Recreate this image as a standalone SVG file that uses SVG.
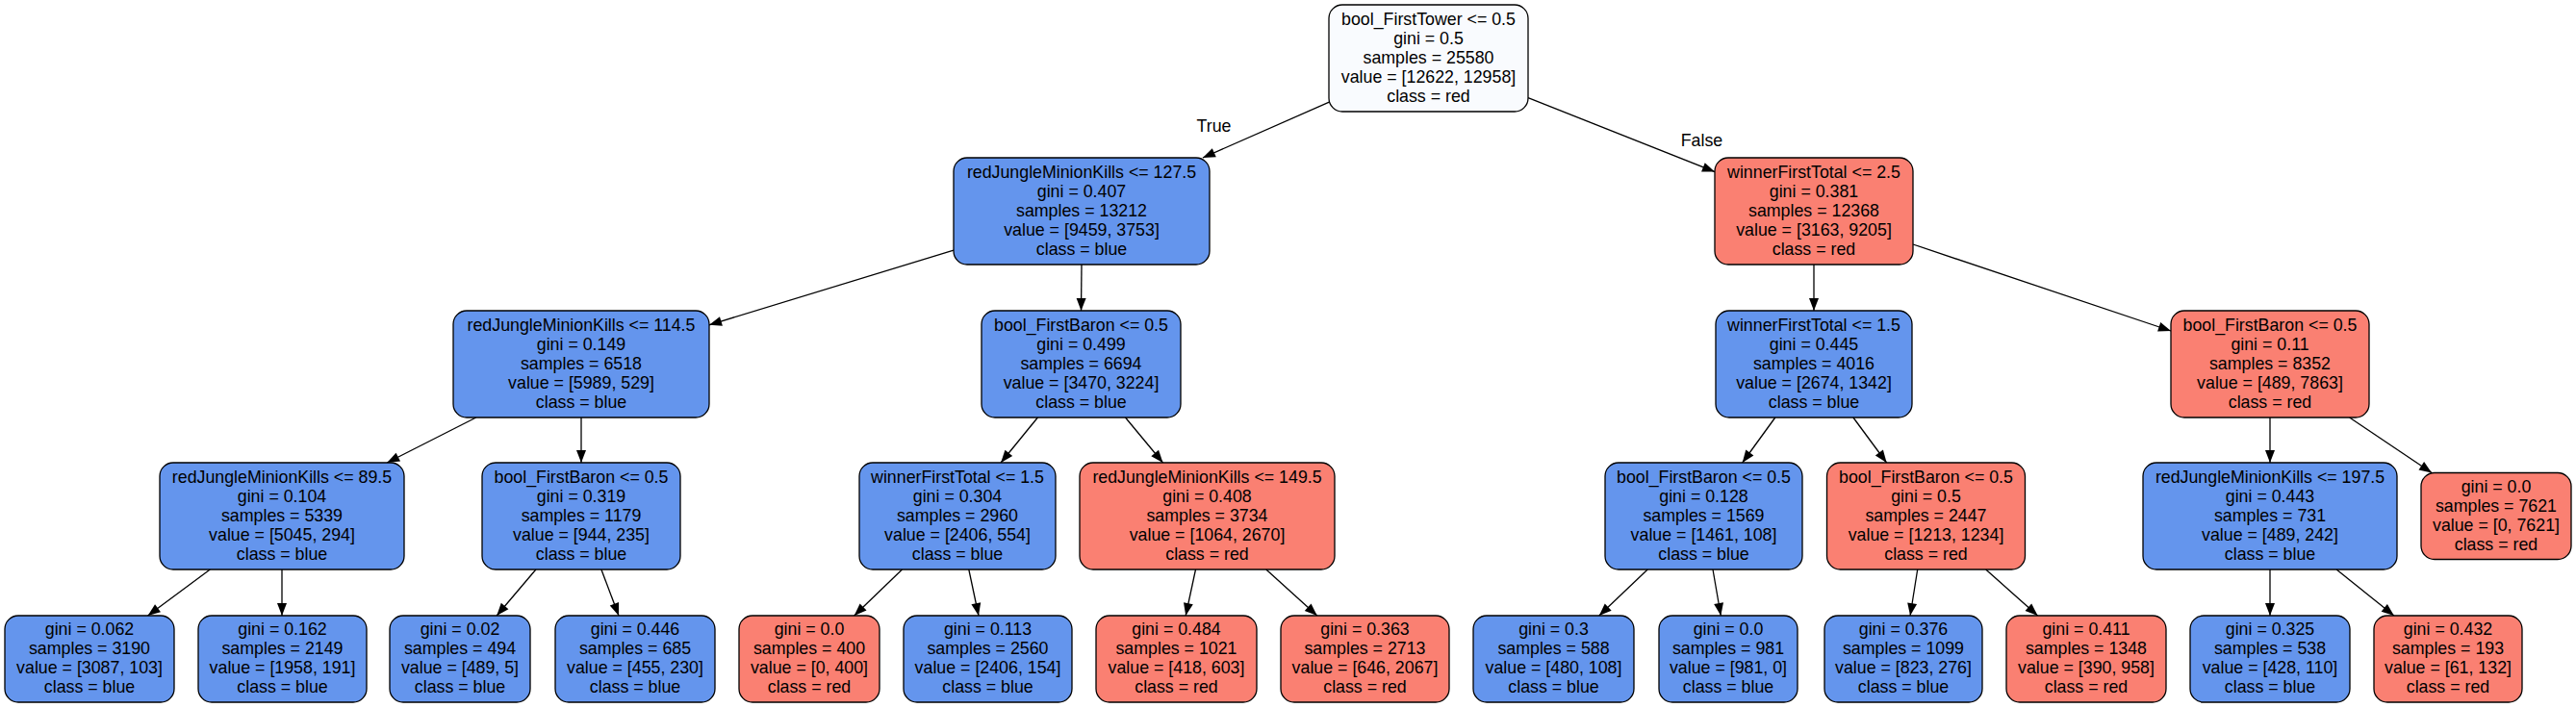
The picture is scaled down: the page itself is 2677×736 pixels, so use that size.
<svg xmlns="http://www.w3.org/2000/svg" width="2677" height="736" viewBox="0 0 2677 736">
<style>
.b,.r,.w{stroke:#000;stroke-width:1.3}
.b{fill:#6495ED}
.r{fill:#FA8072}
.w{fill:#F9FBFE}
text{font-family:"Liberation Sans",Arial,Helvetica,sans-serif;font-size:17.8px;text-anchor:middle;fill:#000}
.e line{stroke:#000;stroke-width:1.3;marker-end:url(#ah)}
</style>
<defs>
<marker id="ah" markerUnits="userSpaceOnUse" viewBox="0 0 13 10" markerWidth="13" markerHeight="10" refX="13" refY="5" orient="auto" overflow="visible">
<path d="M0,0 L13,5 L0,10 z" fill="#000"/>
</marker>
</defs>
<g id="connectors" class="e">
<line x1="1383" y1="105.4" x2="1249.9" y2="164"/>
<line x1="1588" y1="101.6" x2="1782" y2="178.6"/>
<line x1="991" y1="260.2" x2="737" y2="337.8"/>
<line x1="1124" y1="275" x2="1123.5" y2="323"/>
<line x1="1885" y1="275" x2="1885" y2="323"/>
<line x1="1988" y1="254" x2="2256" y2="344"/>
<line x1="494.8" y1="434" x2="402.2" y2="481"/>
<line x1="604" y1="434" x2="604" y2="481"/>
<line x1="1078.4" y1="434" x2="1040.1" y2="481"/>
<line x1="1169.5" y1="434" x2="1208.5" y2="481"/>
<line x1="1844.8" y1="434" x2="1810.7" y2="481"/>
<line x1="1925.9" y1="434" x2="1960.6" y2="481"/>
<line x1="2359" y1="434" x2="2359" y2="481"/>
<line x1="2441.6" y1="434" x2="2527.1" y2="491.5"/>
<line x1="218.3" y1="592" x2="153.6" y2="640"/>
<line x1="293" y1="592" x2="293" y2="640"/>
<line x1="556.9" y1="592" x2="516.2" y2="640"/>
<line x1="624.9" y1="592" x2="643" y2="640"/>
<line x1="937.5" y1="592" x2="887.7" y2="640"/>
<line x1="1006.8" y1="592" x2="1017" y2="640"/>
<line x1="1242.5" y1="592" x2="1232.2" y2="640"/>
<line x1="1315.8" y1="592" x2="1368.8" y2="640"/>
<line x1="1712.2" y1="592" x2="1661.8" y2="640"/>
<line x1="1780" y1="592" x2="1788.3" y2="640"/>
<line x1="1992.7" y1="592" x2="1985.1" y2="640"/>
<line x1="2063.7" y1="592" x2="2117.6" y2="640"/>
<line x1="2359" y1="592" x2="2359" y2="640"/>
<line x1="2428.1" y1="592" x2="2487.9" y2="640"/>
<text x="1261.5" y="137">True</text>
<text x="1768.5" y="152">False</text>
</g>
<g id="node0"><rect class="w" x="1381" y="5" width="207" height="111" rx="14"/>
<text x="1484.5" y="25.5">bool_FirstTower &lt;= 0.5</text><text x="1484.5" y="45.5">gini = 0.5</text><text x="1484.5" y="65.5">samples = 25580</text><text x="1484.5" y="85.5">value = [12622, 12958]</text><text x="1484.5" y="105.5">class = red</text></g>
<g id="node1"><rect class="b" x="991" y="164" width="266" height="111" rx="14"/>
<text x="1124" y="184.5">redJungleMinionKills &lt;= 127.5</text><text x="1124" y="204.5">gini = 0.407</text><text x="1124" y="224.5">samples = 13212</text><text x="1124" y="244.5">value = [9459, 3753]</text><text x="1124" y="264.5">class = blue</text></g>
<g id="node16"><rect class="r" x="1782" y="164" width="206" height="111" rx="14"/>
<text x="1885" y="184.5">winnerFirstTotal &lt;= 2.5</text><text x="1885" y="204.5">gini = 0.381</text><text x="1885" y="224.5">samples = 12368</text><text x="1885" y="244.5">value = [3163, 9205]</text><text x="1885" y="264.5">class = red</text></g>
<g id="node2"><rect class="b" x="471" y="323" width="266" height="111" rx="14"/>
<text x="604" y="343.5">redJungleMinionKills &lt;= 114.5</text><text x="604" y="363.5">gini = 0.149</text><text x="604" y="383.5">samples = 6518</text><text x="604" y="403.5">value = [5989, 529]</text><text x="604" y="423.5">class = blue</text></g>
<g id="node9"><rect class="b" x="1020" y="323" width="207" height="111" rx="14"/>
<text x="1123.5" y="343.5">bool_FirstBaron &lt;= 0.5</text><text x="1123.5" y="363.5">gini = 0.499</text><text x="1123.5" y="383.5">samples = 6694</text><text x="1123.5" y="403.5">value = [3470, 3224]</text><text x="1123.5" y="423.5">class = blue</text></g>
<g id="node17"><rect class="b" x="1783" y="323" width="204" height="111" rx="14"/>
<text x="1885" y="343.5">winnerFirstTotal &lt;= 1.5</text><text x="1885" y="363.5">gini = 0.445</text><text x="1885" y="383.5">samples = 4016</text><text x="1885" y="403.5">value = [2674, 1342]</text><text x="1885" y="423.5">class = blue</text></g>
<g id="node24"><rect class="r" x="2256" y="323" width="206" height="111" rx="14"/>
<text x="2359" y="343.5">bool_FirstBaron &lt;= 0.5</text><text x="2359" y="363.5">gini = 0.11</text><text x="2359" y="383.5">samples = 8352</text><text x="2359" y="403.5">value = [489, 7863]</text><text x="2359" y="423.5">class = red</text></g>
<g id="node3"><rect class="b" x="166" y="481" width="254" height="111" rx="14"/>
<text x="293" y="501.5">redJungleMinionKills &lt;= 89.5</text><text x="293" y="521.5">gini = 0.104</text><text x="293" y="541.5">samples = 5339</text><text x="293" y="561.5">value = [5045, 294]</text><text x="293" y="581.5">class = blue</text></g>
<g id="node6"><rect class="b" x="501" y="481" width="206" height="111" rx="14"/>
<text x="604" y="501.5">bool_FirstBaron &lt;= 0.5</text><text x="604" y="521.5">gini = 0.319</text><text x="604" y="541.5">samples = 1179</text><text x="604" y="561.5">value = [944, 235]</text><text x="604" y="581.5">class = blue</text></g>
<g id="node10"><rect class="b" x="893" y="481" width="204" height="111" rx="14"/>
<text x="995" y="501.5">winnerFirstTotal &lt;= 1.5</text><text x="995" y="521.5">gini = 0.304</text><text x="995" y="541.5">samples = 2960</text><text x="995" y="561.5">value = [2406, 554]</text><text x="995" y="581.5">class = blue</text></g>
<g id="node13"><rect class="r" x="1122" y="481" width="265" height="111" rx="14"/>
<text x="1254.5" y="501.5">redJungleMinionKills &lt;= 149.5</text><text x="1254.5" y="521.5">gini = 0.408</text><text x="1254.5" y="541.5">samples = 3734</text><text x="1254.5" y="561.5">value = [1064, 2670]</text><text x="1254.5" y="581.5">class = red</text></g>
<g id="node18"><rect class="b" x="1668" y="481" width="205" height="111" rx="14"/>
<text x="1770.5" y="501.5">bool_FirstBaron &lt;= 0.5</text><text x="1770.5" y="521.5">gini = 0.128</text><text x="1770.5" y="541.5">samples = 1569</text><text x="1770.5" y="561.5">value = [1461, 108]</text><text x="1770.5" y="581.5">class = blue</text></g>
<g id="node21"><rect class="r" x="1898.5" y="481" width="206" height="111" rx="14"/>
<text x="2001.5" y="501.5">bool_FirstBaron &lt;= 0.5</text><text x="2001.5" y="521.5">gini = 0.5</text><text x="2001.5" y="541.5">samples = 2447</text><text x="2001.5" y="561.5">value = [1213, 1234]</text><text x="2001.5" y="581.5">class = red</text></g>
<g id="node25"><rect class="b" x="2227" y="481" width="264" height="111" rx="14"/>
<text x="2359" y="501.5">redJungleMinionKills &lt;= 197.5</text><text x="2359" y="521.5">gini = 0.443</text><text x="2359" y="541.5">samples = 731</text><text x="2359" y="561.5">value = [489, 242]</text><text x="2359" y="581.5">class = blue</text></g>
<g id="node28"><rect class="r" x="2516" y="491.5" width="156" height="90" rx="14"/>
<text x="2594" y="511.5">gini = 0.0</text><text x="2594" y="531.5">samples = 7621</text><text x="2594" y="551.5">value = [0, 7621]</text><text x="2594" y="571.5">class = red</text></g>
<g id="node4"><rect class="b" x="5" y="640" width="176" height="90" rx="14"/>
<text x="93" y="660">gini = 0.062</text><text x="93" y="680">samples = 3190</text><text x="93" y="700">value = [3087, 103]</text><text x="93" y="720">class = blue</text></g>
<g id="node5"><rect class="b" x="206" y="640" width="175" height="90" rx="14"/>
<text x="293.5" y="660">gini = 0.162</text><text x="293.5" y="680">samples = 2149</text><text x="293.5" y="700">value = [1958, 191]</text><text x="293.5" y="720">class = blue</text></g>
<g id="node7"><rect class="b" x="405" y="640" width="146" height="90" rx="14"/>
<text x="478" y="660">gini = 0.02</text><text x="478" y="680">samples = 494</text><text x="478" y="700">value = [489, 5]</text><text x="478" y="720">class = blue</text></g>
<g id="node8"><rect class="b" x="577" y="640" width="166" height="90" rx="14"/>
<text x="660" y="660">gini = 0.446</text><text x="660" y="680">samples = 685</text><text x="660" y="700">value = [455, 230]</text><text x="660" y="720">class = blue</text></g>
<g id="node11"><rect class="r" x="768" y="640" width="146" height="90" rx="14"/>
<text x="841" y="660">gini = 0.0</text><text x="841" y="680">samples = 400</text><text x="841" y="700">value = [0, 400]</text><text x="841" y="720">class = red</text></g>
<g id="node12"><rect class="b" x="939" y="640" width="175" height="90" rx="14"/>
<text x="1026.5" y="660">gini = 0.113</text><text x="1026.5" y="680">samples = 2560</text><text x="1026.5" y="700">value = [2406, 154]</text><text x="1026.5" y="720">class = blue</text></g>
<g id="node14"><rect class="r" x="1139" y="640" width="167" height="90" rx="14"/>
<text x="1222.5" y="660">gini = 0.484</text><text x="1222.5" y="680">samples = 1021</text><text x="1222.5" y="700">value = [418, 603]</text><text x="1222.5" y="720">class = red</text></g>
<g id="node15"><rect class="r" x="1331" y="640" width="175" height="90" rx="14"/>
<text x="1418.5" y="660">gini = 0.363</text><text x="1418.5" y="680">samples = 2713</text><text x="1418.5" y="700">value = [646, 2067]</text><text x="1418.5" y="720">class = red</text></g>
<g id="node19"><rect class="b" x="1531" y="640" width="167" height="90" rx="14"/>
<text x="1614.5" y="660">gini = 0.3</text><text x="1614.5" y="680">samples = 588</text><text x="1614.5" y="700">value = [480, 108]</text><text x="1614.5" y="720">class = blue</text></g>
<g id="node20"><rect class="b" x="1724" y="640" width="144" height="90" rx="14"/>
<text x="1796" y="660">gini = 0.0</text><text x="1796" y="680">samples = 981</text><text x="1796" y="700">value = [981, 0]</text><text x="1796" y="720">class = blue</text></g>
<g id="node22"><rect class="b" x="1896" y="640" width="164" height="90" rx="14"/>
<text x="1978" y="660">gini = 0.376</text><text x="1978" y="680">samples = 1099</text><text x="1978" y="700">value = [823, 276]</text><text x="1978" y="720">class = blue</text></g>
<g id="node23"><rect class="r" x="2085" y="640" width="166" height="90" rx="14"/>
<text x="2168" y="660">gini = 0.411</text><text x="2168" y="680">samples = 1348</text><text x="2168" y="700">value = [390, 958]</text><text x="2168" y="720">class = red</text></g>
<g id="node26"><rect class="b" x="2276" y="640" width="166" height="90" rx="14"/>
<text x="2359" y="660">gini = 0.325</text><text x="2359" y="680">samples = 538</text><text x="2359" y="700">value = [428, 110]</text><text x="2359" y="720">class = blue</text></g>
<g id="node27"><rect class="r" x="2467" y="640" width="154" height="90" rx="14"/>
<text x="2544" y="660">gini = 0.432</text><text x="2544" y="680">samples = 193</text><text x="2544" y="700">value = [61, 132]</text><text x="2544" y="720">class = red</text></g>
</svg>
